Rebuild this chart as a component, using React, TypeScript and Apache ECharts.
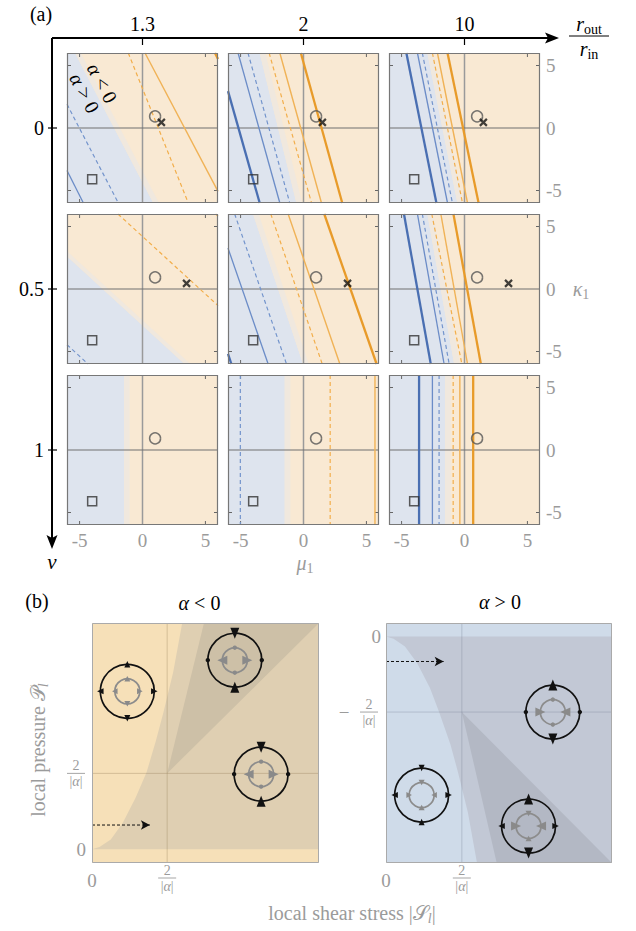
import React, { useEffect, useRef } from 'react';
import * as echarts from 'echarts';

const FONT = "'Liberation Serif', 'DejaVu Serif', serif";
const GRAY = '#9b9b9b';

// ---------------- panel (a) data ----------------
const ratioLabels = ['1.3', '2', '10'];
const nuLabels = ['0', '0.5', '1'];
const tickValues = [-5, 0, 5];
// every line: [mu1 at kappa1 = +6, mu1 at kappa1 = -6]; index = row(nu) * 3 + col(ratio)
const regionBoundary = [
  [-5.36, 0.86], [-3.48, -0.56], [-2.95, -0.56],
  [-9.68, 3.35], [-4.01, -0.03], [-2.95, -0.82],
  [-1.47, -1.47], [-1.49, -1.49], [-1.54, -1.54],
];
const blueThick = [
  null, [-6.86, -3.48], [-4.62, -2.23],
  null, [-9.73, -5.73], [-4.81, -2.68],
  null, null, [-3.61, -3.61],
];
const blueThin = [
  [-10.7, -4.7], [-5.2, -1.88], [-3.74, -1.35],
  null, [-6.94, -2.81], [-3.74, -1.62],
  null, null, [-2.55, -2.55],
];
const blueDashed = [
  [-8.12, -1.92], [-4.41, -1.09], [-3.35, -0.96],
  [-17.3, -4.33], [-5.47, -1.35], [-3.35, -1.22],
  null, [-5.02, -5.02], [-2.02, -2.02],
];
const orangeDashed = [
  [-1.13, 3.64], [-2.73, 0.64], [-2.55, -0.16],
  [-1.95, 11.07], [-2.6, 1.49], [-2.6, -0.21],
  null, [2.12, 2.12], [-0.9, -0.9],
];
const orangeThin = [
  [0.2, 6.49], [-1.88, 1.43], [-2.15, 0.24],
  [5.81, 18.8], [-1.22, 2.89], [-1.88, 0.24],
  null, [5.68, 5.68], [-0.37, -0.37],
];
const orangeThick = [
  [5.76, 11.76], [-0.21, 3.08], [-1.35, 1.12],
  null, [1.65, 5.81], [-0.88, 1.3],
  null, null, [0.69, 0.69],
];
const circleMarker = [1.0, 0.93];
const squareMarker = [-4.0, -4.1];
const crossMarkers = [[1.5, 0.45], [3.5, 0.45], null];
const alphaLabelPos = [[-3.2, 3.6], [-4.6, 2.8]];

// ---------------- panel (b) data ----------------
const negCurve = [[0, 0], [0.1, 0.03], [0.25, 0.13], [0.41, 0.35], [0.58, 0.68], [0.725, 1.01], [0.85, 1.43], [0.95, 1.8], [1.08, 2.33], [1.2, 2.98]];
const negWedge = [[1, 1], [1.49, 2.98], [3.02, 2.98]];
const posCurve = [[0, 0], [0.1, -0.03], [0.25, -0.13], [0.41, -0.35], [0.58, -0.68], [0.7, -1.0], [0.85, -1.43], [0.95, -1.8], [1.08, -2.33], [1.2, -3.0]];
const posWedge = [[1, -1], [1.46, -3], [2.98, -3]];
const negArrow = [[0, 0.32], [0.77, 0.32]];
const posArrow = [[0, -0.33], [0.76, -0.33]];
// arrow codes per [top, right, bottom, left]: o/O outward small/large, i/I inward, d dot
const negIcons = [
  { at: [0.47, 2.08], outer: ['o', 'o', 'o', 'o'], inner: ['o', 'o', 'o', 'o'] },
  { at: [1.9, 2.49], outer: ['I', 'd', 'I', 'd'], inner: ['d', 'O', 'd', 'O'] },
  { at: [2.25, 0.99], outer: ['I', 'd', 'I', 'd'], inner: ['d', 'O', 'd', 'O'] },
];
const posIcons = [
  { at: [2.2, -1.0], outer: ['O', 'd', 'O', 'd'], inner: ['d', 'I', 'd', 'I'] },
  { at: [0.47, -2.1], outer: ['i', 'o', 'i', 'o'], inner: ['i', 'i', 'i', 'i'] },
  { at: [1.88, -2.51], outer: ['O', 'o', 'O', 'o'], inner: ['i', 'I', 'i', 'I'] },
];

// ---------------- layout / style ----------------
const PX = [67, 228, 389];
const PY = [53, 214, 375];
const PW = 151;
const PH = 150;
const BG = [
  { left: 92, top: 623, width: 227, height: 240, x: [0, 3.02], y: [-0.18, 2.98] },
  { left: 386, top: 623, width: 226, height: 240, x: [0, 2.98], y: [-3, 0.18] },
];
const ORANGE_BG = '#f9e9d3';
const BLUE_BG = '#dee4ee';
const BAND_BG = '#f0e8de';
const BAND = 0.45;

const LINE_FAMILIES = [
  { data: blueDashed, color: '#7394cc', width: 1.2, dash: true },
  { data: blueThin, color: '#6b8cc7', width: 1.3, dash: false },
  { data: blueThick, color: '#4a6fb2', width: 2.3, dash: false },
  { data: orangeDashed, color: '#f2ae4b', width: 1.2, dash: true },
  { data: orangeThin, color: '#f0b256', width: 1.4, dash: false },
  { data: orangeThick, color: '#e89b2a', width: 2.3, dash: false },
];

function clipSeg(p: number[], q: number[], lo = -6, hi = 6) {
  let t0 = 0, t1 = 1;
  const dx = q[0] - p[0], dy = q[1] - p[1];
  const checks = [[-dx, p[0] - lo], [dx, hi - p[0]], [-dy, p[1] - lo], [dy, hi - p[1]]];
  for (const [pp, qq] of checks) {
    if (pp === 0) { if (qq < 0) return null; }
    else {
      const t = qq / pp;
      if (pp < 0) { if (t > t1) return null; if (t > t0) t0 = t; }
      else { if (t < t0) return null; if (t < t1) t1 = t; }
    }
  }
  return [[p[0] + t0 * dx, p[1] + t0 * dy], [p[0] + t1 * dx, p[1] + t1 * dy]];
}

function clipPolyX(pts: number[][], lo: number, hi: number) {
  const clip = (poly: number[][], inside: (a: number[]) => boolean, x0: number) => {
    const out: number[][] = [];
    for (let i = 0; i < poly.length; i++) {
      const a = poly[i], b = poly[(i + 1) % poly.length];
      const ia = inside(a), ib = inside(b);
      const inter = () => { const t = (x0 - a[0]) / (b[0] - a[0]); return [x0, a[1] + t * (b[1] - a[1])]; };
      if (ia) { out.push(a); if (!ib) out.push(inter()); }
      else if (ib) out.push(inter());
    }
    return out;
  };
  let p = clip(pts, (a) => a[0] >= lo, lo);
  p = clip(p, (a) => a[0] <= hi, hi);
  return p;
}

function tri(cx: number, cy: number, d: number[], code: string, R: number, color: string, inner: boolean) {
  const px = cx + d[0] * R, py = cy + d[1] * R;
  if (code === 'd') return { type: 'circle', shape: { cx: px, cy: py, r: 2.2 }, style: { fill: color } };
  const big = code === code.toUpperCase();
  const L = big ? (inner ? 10 : 11) : (inner ? 5.5 : 6.5);
  const W = big ? 9 : 6;
  const s = code.toLowerCase() === 'o' ? 1 : -1;
  const tip = [px + d[0] * L * 0.5 * s, py + d[1] * L * 0.5 * s];
  const bc = [px - d[0] * L * 0.5 * s, py - d[1] * L * 0.5 * s];
  const perp = [-d[1], d[0]];
  return {
    type: 'polygon',
    shape: { points: [tip, [bc[0] + perp[0] * W / 2, bc[1] + perp[1] * W / 2], [bc[0] - perp[0] * W / 2, bc[1] - perp[1] * W / 2]] },
    style: { fill: color },
  };
}

function iconGroup(cx: number, cy: number, spec: any) {
  const R = 27, r = 12.5;
  const dirs = [[0, -1], [1, 0], [0, 1], [-1, 0]];
  const children: any[] = [
    { type: 'circle', shape: { cx, cy, r: R }, style: { fill: 'none', stroke: '#111', lineWidth: 1.7 } },
    { type: 'circle', shape: { cx, cy, r }, style: { fill: 'none', stroke: '#8c8c8c', lineWidth: 1.7 } },
  ];
  dirs.forEach((d, k) => {
    children.push(tri(cx, cy, d, spec.outer[k], R, '#111', false));
    children.push(tri(cx, cy, d, spec.inner[k], r, '#8a8a8a', true));
  });
  return { type: 'group', children };
}

function buildOption() {
  const grid: any[] = [], xAxis: any[] = [], yAxis: any[] = [], series: any[] = [];
  const lbl = (show: boolean) => ({
    show, color: GRAY, fontSize: 19, fontFamily: FONT, margin: 6,
    formatter: (v: number) => (tickValues.includes(v) ? String(v) : ''),
  });
  for (let r = 0; r < 3; r++) {
    for (let c = 0; c < 3; c++) {
      const i = r * 3 + c;
      grid.push({ left: PX[c], top: PY[r], width: PW, height: PH, show: true, backgroundColor: ORANGE_BG, borderWidth: 0 });
      xAxis.push({
        gridIndex: i, type: 'value', min: -6, max: 6, interval: 1,
        axisLine: { show: false }, axisTick: { show: false }, splitLine: { show: false }, axisLabel: lbl(r === 2),
      });
      yAxis.push({
        gridIndex: i, type: 'value', position: 'right', min: -6, max: 6, interval: 1,
        axisLine: { show: false }, axisTick: { show: false }, splitLine: { show: false }, axisLabel: lbl(c === 2),
      });
      const [bt, bb] = regionBoundary[i];
      series.push({
        type: 'custom', coordinateSystem: 'cartesian2d', xAxisIndex: i, yAxisIndex: i, z: 1, silent: true,
        data: [[0, 0]],
        renderItem: (_p: any, api: any) => {
          const blue = clipPolyX([[-40, 6], [bt, 6], [bb, -6], [-40, -6]], -6, 6).map((p) => api.coord(p));
          const band = clipPolyX([[bt, 6], [bt + BAND, 6], [bb + BAND, -6], [bb, -6]], -6, 6).map((p) => api.coord(p));
          const children: any[] = [];
          if (blue.length > 2) children.push({ type: 'polygon', shape: { points: blue }, style: { fill: BLUE_BG } });
          if (band.length > 2) children.push({ type: 'polygon', shape: { points: band }, style: { fill: BAND_BG } });
          return { type: 'group', children };
        },
      });
      series.push({
        type: 'custom', coordinateSystem: 'cartesian2d', xAxisIndex: i, yAxisIndex: i, z: 2, silent: true,
        data: [[0, 0]],
        renderItem: (_p: any, api: any) => {
          const ch: any[] = [];
          const L = (a: number[], b: number[], stroke: string, w: number) =>
            ch.push({ type: 'line', shape: { x1: a[0], y1: a[1], x2: b[0], y2: b[1] }, style: { stroke, lineWidth: w } });
          L(api.coord([0, 6]), api.coord([0, -6]), '#9a9a9a', 1.5);
          L(api.coord([-6, 0]), api.coord([6, 0]), '#707070', 1.2);
          [-5, 5].forEach((v) => {
            const t = api.coord([v, 6]), b = api.coord([v, -6]), l = api.coord([-6, v]), rr = api.coord([6, v]);
            L(t, [t[0], t[1] + 4], '#666', 1);
            L(b, [b[0], b[1] - 4], '#666', 1);
            L(l, [l[0] + 4, l[1]], '#666', 1);
            L(rr, [rr[0] - 4, rr[1]], '#666', 1);
          });
          return { type: 'group', children: ch };
        },
      });
      LINE_FAMILIES.forEach((f) => {
        const seg = f.data[i];
        if (!seg) return;
        const cl = clipSeg([seg[0], 6], [seg[1], -6]);
        if (!cl) return;
        series.push({
          type: 'line', xAxisIndex: i, yAxisIndex: i, data: cl, showSymbol: false, symbol: 'none', silent: true, z: 3,
          lineStyle: { color: f.color, width: f.width, type: f.dash ? [4, 3] : 'solid' },
        });
      });
      series.push({
        type: 'scatter', xAxisIndex: i, yAxisIndex: i, data: [circleMarker], symbol: 'circle', symbolSize: 11, z: 5, silent: true,
        itemStyle: { color: 'rgba(0,0,0,0)', borderColor: '#555', borderWidth: 1.5 },
      });
      series.push({
        type: 'scatter', xAxisIndex: i, yAxisIndex: i, data: [squareMarker], symbol: 'rect', symbolSize: 9, z: 5, silent: true,
        itemStyle: { color: 'rgba(0,0,0,0)', borderColor: '#333', borderWidth: 1.5 },
      });
      const cm = crossMarkers[r];
      if (cm) {
        series.push({
          type: 'scatter', xAxisIndex: i, yAxisIndex: i, data: [cm], symbol: 'path://M0,0L10,10M10,0L0,10', symbolSize: 7, z: 5, silent: true,
          itemStyle: { color: 'rgba(0,0,0,0)', borderColor: '#111', borderWidth: 2.2 },
        });
      }
    }
  }

  // panel (b)
  const bDefs = [
    { curve: negCurve, wedge: negWedge, arrow: negArrow, icons: negIcons, gridY: 1, colors: ['#f6e0b8', '#dfcfb2', '#cdc0a7'], gl: 'rgba(150,125,90,0.35)' },
    { curve: posCurve, wedge: posWedge, arrow: posArrow, icons: posIcons, gridY: -1, colors: ['#cfdbe9', '#c2c8d5', '#b3b8c4'], gl: 'rgba(110,120,140,0.3)' },
  ];
  bDefs.forEach((d, k) => {
    const g = BG[k];
    const gi = 9 + k;
    grid.push({ left: g.left, top: g.top, width: g.width, height: g.height });
    xAxis.push({ gridIndex: gi, type: 'value', min: g.x[0], max: g.x[1], show: false });
    yAxis.push({ gridIndex: gi, type: 'value', min: g.y[0], max: g.y[1], show: false });
    series.push({
      type: 'custom', coordinateSystem: 'cartesian2d', xAxisIndex: gi, yAxisIndex: gi, z: 1, silent: true,
      data: [[0, 0]],
      renderItem: (_p: any, api: any) => {
        const C = (p: number[]) => api.coord(p);
        const [x0, x1] = g.x, [y0, y1] = g.y;
        const edgeY = k === 0 ? y1 : y0;
        const mid = [...d.curve, [x1, edgeY], [x1, 0]];
        return {
          type: 'group',
          children: [
            { type: 'polygon', shape: { points: [[x0, y0], [x1, y0], [x1, y1], [x0, y1]].map(C) }, style: { fill: d.colors[0] } },
            { type: 'polygon', shape: { points: mid.map(C) }, style: { fill: d.colors[1] } },
            { type: 'polygon', shape: { points: d.wedge.map(C) }, style: { fill: d.colors[2] } },
            { type: 'line', shape: (() => { const a = C([1, y0]), b = C([1, y1]); return { x1: a[0], y1: a[1], x2: b[0], y2: b[1] }; })(), style: { stroke: d.gl, lineWidth: 1 } },
            { type: 'line', shape: (() => { const a = C([x0, d.gridY]), b = C([x1, d.gridY]); return { x1: a[0], y1: a[1], x2: b[0], y2: b[1] }; })(), style: { stroke: d.gl, lineWidth: 1 } },
          ],
        };
      },
    });
    series.push({
      type: 'line', xAxisIndex: gi, yAxisIndex: gi, z: 3, silent: true,
      data: [{ value: d.arrow[0], symbol: 'none' }, { value: d.arrow[1], symbol: 'arrow', symbolSize: [7, 9], symbolRotate: -90 }],
      lineStyle: { color: '#111', width: 1, type: [3, 2] }, itemStyle: { color: '#111' },
    });
    series.push({
      type: 'custom', coordinateSystem: 'cartesian2d', xAxisIndex: gi, yAxisIndex: gi, z: 4, silent: true,
      data: d.icons.map((ic, n) => [ic.at[0], ic.at[1], n]),
      renderItem: (_p: any, api: any) => {
        const p = api.coord([api.value(0), api.value(1)]);
        return iconGroup(p[0], p[1], d.icons[api.value(2)]);
      },
    });
  });

  return { animation: false, backgroundColor: '#fff', grid, xAxis, yAxis, series };
}

let ctx: CanvasRenderingContext2D | null = null;
function tw(t: string, size: number, italic: boolean) {
  if (!ctx) ctx = document.createElement('canvas').getContext('2d');
  ctx!.font = `${italic ? 'italic ' : ''}${size}px ${FONT}`;
  return ctx!.measureText(t).width;
}
function seq(parts: any[], x: number, y: number, align: string, color: string) {
  const W = parts.reduce((s, p) => s + tw(p[0], p[1], p[2]), 0);
  let cx = align === 'center' ? x - W / 2 : align === 'right' ? x - W : x;
  return parts.map((p) => {
    const e = {
      type: 'text', x: cx, y: y + (p[3] || 0), z: 100, silent: true,
      style: { text: p[0], fontSize: p[1], fontStyle: p[2] ? 'italic' : 'normal', fontFamily: FONT, fill: color, align: 'left', verticalAlign: 'middle' },
    };
    cx += tw(p[0], p[1], p[2]);
    return e;
  });
}
function frac(x: number, y: number, num: string, size: number, color: string) {
  const out: any[] = [];
  out.push(...seq([[num, size, false, 0]], x, y - 8, 'center', color));
  out.push(...seq([['|', size, false, 0], ['α', size, true, 0], ['|', size, false, 0]], x, y + 8.5, 'center', color));
  out.push({ type: 'line', z: 100, silent: true, shape: { x1: x - 9, y1: y, x2: x + 9, y2: y }, style: { stroke: color, lineWidth: 0.9 } });
  return out;
}

function buildGraphic(chart: any) {
  const els: any[] = [];
  const line = (x1: number, y1: number, x2: number, y2: number, w: number, color = '#000') =>
    els.push({ type: 'line', z: 100, silent: true, shape: { x1, y1, x2, y2 }, style: { stroke: color, lineWidth: w } });
  // frames (a)
  for (let r = 0; r < 3; r++) for (let c = 0; c < 3; c++) {
    els.push({ type: 'rect', z: 90, silent: true, shape: { x: PX[c] + 0.5, y: PY[r] + 0.5, width: PW - 1, height: PH - 1 }, style: { fill: 'none', stroke: '#777', lineWidth: 1.2 } });
  }
  els.push(...seq([['(a)', 20, false, 0]], 41, 14, 'center', '#000'));
  // top axis
  line(52, 38, 550, 38, 2);
  els.push({ type: 'polygon', z: 100, silent: true, shape: { points: [[559, 38], [545, 32.5], [548, 38], [545, 43.5]] }, style: { fill: '#000' } });
  ratioLabels.forEach((t, c) => {
    const cx = PX[c] + PW / 2;
    line(cx, 38, cx, 45, 1.2);
    els.push(...seq([[t, 20, false, 0]], cx, 24, 'center', '#000'));
  });
  // left axis
  line(52, 38, 52, 540, 2);
  els.push({ type: 'polygon', z: 100, silent: true, shape: { points: [[52, 549], [46.5, 535], [52, 538], [57.5, 535]] }, style: { fill: '#000' } });
  nuLabels.forEach((t, r) => {
    const cy = PY[r] + PH / 2;
    line(48, cy, 57, cy, 1.2);
    els.push(...seq([[t, 20, false, 0]], 44, cy, 'right', '#000'));
  });
  els.push(...seq([['ν', 21, true, 0]], 52, 562, 'center', '#000'));
  // r_out / r_in
  els.push(...seq([['r', 20, true, 0], ['out', 14, false, 5]], 589, 24, 'center', '#000'));
  line(569, 36, 609, 36, 1);
  els.push(...seq([['r', 20, true, 0], ['in', 14, false, 5]], 589, 49, 'center', '#000'));
  els.push(...seq([['κ', 20, true, 0], ['1', 14, false, 5]], 581, 289, 'center', GRAY));
  els.push(...seq([['μ', 20, true, 0], ['1', 14, false, 5]], 305, 563, 'center', GRAY));
  // alpha labels in first panel
  const a0 = chart.convertToPixel({ gridIndex: 0 }, alphaLabelPos[0]);
  const a1 = chart.convertToPixel({ gridIndex: 0 }, alphaLabelPos[1]);
  const rot = -62 * Math.PI / 180;
  els.push({ type: 'group', x: a0[0], y: a0[1], rotation: rot, z: 100, children: seq([['α', 20, true, 0], [' < 0', 20, false, 0]], 0, 0, 'center', '#000') });
  els.push({ type: 'group', x: a1[0], y: a1[1], rotation: rot, z: 100, children: seq([['α', 20, true, 0], [' > 0', 20, false, 0]], 0, 0, 'center', '#000') });

  // panel (b)
  els.push(...seq([['(b)', 20, false, 0]], 37, 601, 'center', '#000'));
  els.push(...seq([['α', 20, true, 0], [' < 0', 20, false, 0]], BG[0].left + BG[0].width / 2 - 6, 603, 'center', '#000'));
  els.push(...seq([['α', 20, true, 0], [' > 0', 20, false, 0]], BG[1].left + BG[1].width / 2 + 1, 602, 'center', '#000'));
  BG.forEach((g) => {
    els.push({ type: 'rect', z: 90, silent: true, shape: { x: g.left + 0.5, y: g.top + 0.5, width: g.width - 1, height: g.height - 1 }, style: { fill: 'none', stroke: '#aaa', lineWidth: 1 } });
  });
  const p9 = (p: number[]) => chart.convertToPixel({ gridIndex: 9 }, p);
  const p10 = (p: number[]) => chart.convertToPixel({ gridIndex: 10 }, p);
  const bottom = BG[0].top + BG[0].height;
  // left plot ticks
  els.push(...seq([['0', 19, false, 0]], BG[0].left - 6, p9([0, 0])[1], 'right', GRAY));
  els.push(...frac(BG[0].left - 16, p9([0, 1])[1], '2', 14, GRAY));
  els.push(...seq([['0', 19, false, 0]], p9([0, 0])[0], bottom + 17, 'center', GRAY));
  els.push(...frac(p9([1, 0])[0], bottom + 15, '2', 14, GRAY));
  // right plot ticks
  els.push(...seq([['0', 19, false, 0]], BG[1].left - 5, p10([0, 0])[1], 'right', GRAY));
  els.push(...seq([['−', 19, false, 0]], BG[1].left - 42, p10([0, -1])[1], 'center', GRAY));
  els.push(...frac(BG[1].left - 17, p10([0, -1])[1], '2', 14, GRAY));
  els.push(...seq([['0', 19, false, 0]], p10([0, 0])[0], bottom + 17, 'center', GRAY));
  els.push(...frac(p10([1, 0])[0], bottom + 15, '2', 14, GRAY));
  // axis titles
  els.push(...seq([['local shear stress |', 20, false, 0], ['𝒮', 20, false, 0], ['l', 14, true, 5], ['|', 20, false, 0]], 352, 913, 'center', GRAY));
  els.push({
    type: 'group', x: 38, y: 750, rotation: Math.PI / 2, z: 100,
    children: seq([['local pressure ', 20, false, 0], ['𝒫', 20, false, 0], ['l', 14, true, 5]], 0, 0, 'center', GRAY),
  });
  return els;
}

export default function App() {
  const ref = useRef<HTMLDivElement>(null);
  useEffect(() => {
    const chart = echarts.init(ref.current!, null, { renderer: 'svg' });
    chart.setOption(buildOption());
    chart.setOption({ graphic: { elements: buildGraphic(chart) } });
    return () => chart.dispose();
  }, []);
  return <div ref={ref} style={{ position: 'fixed', left: 0, top: 0, width: 636, height: 931, background: '#fff' }} />;
}
